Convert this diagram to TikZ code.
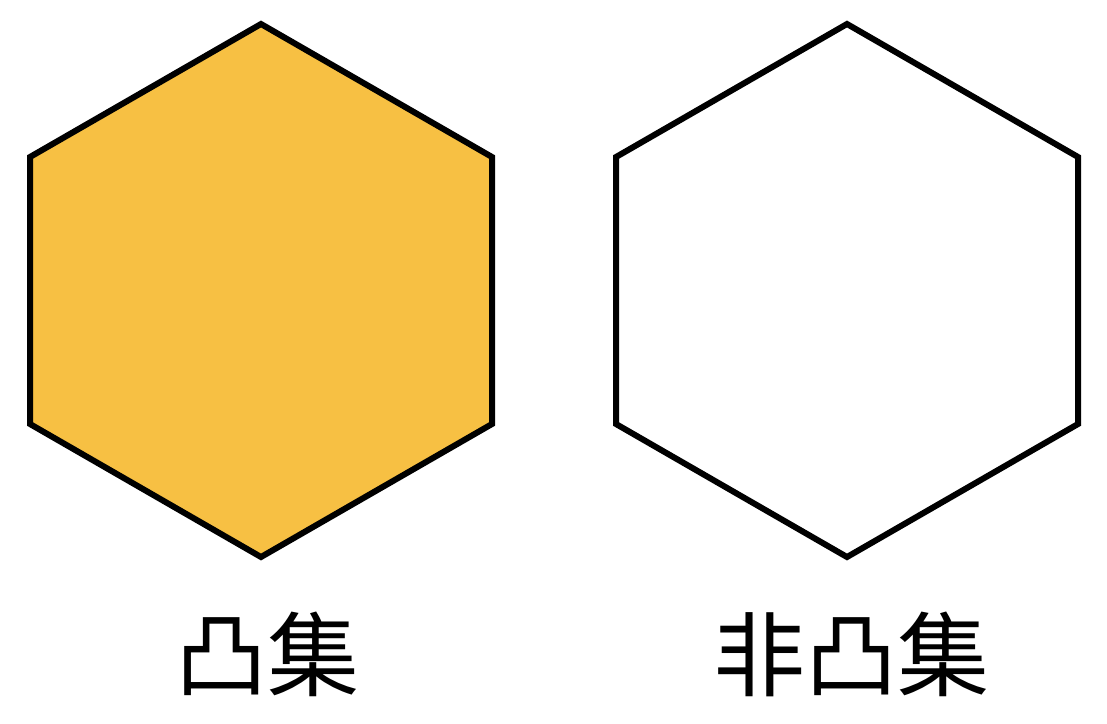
\documentclass[tikz,border=0pt]{standalone}
\usepackage{fontspec}
\newfontfamily\cjk{Noto Sans CJK SC}
\definecolor{hexfill}{HTML}{F7C043}
\tikzset{
  hexline/.style={line width=6pt, line join=miter, draw=black},
  lbl/.style={font=\cjk\fontsize{92}{96}\selectfont, inner sep=0pt, anchor=center}
}
\begin{document}
\begin{tikzpicture}[x=1pt,y=-1pt]
\useasboundingbox (0,0) rectangle (1107,723);
% left hexagon (convex, filled)
\coordinate (a1) at (261,24);
\coordinate (a2) at (492,157);
\coordinate (a3) at (492,424);
\coordinate (a4) at (261,557);
\coordinate (a5) at (30,424);
\coordinate (a6) at (30,157);
\filldraw[hexline, fill=hexfill] (a1) -- (a2) -- (a3) -- (a4) -- (a5) -- (a6) -- cycle;
% right hexagon
\coordinate (b1) at (847,24);
\coordinate (b2) at (1078,157);
\coordinate (b3) at (1078,424);
\coordinate (b4) at (847,557);
\coordinate (b5) at (616,424);
\coordinate (b6) at (616,157);
\draw[hexline, fill=white] (b1) -- (b2) -- (b3) -- (b4) -- (b5) -- (b6) -- cycle;
\node[lbl] (l1) at (267,654) {凸集};
\node[lbl] (l2) at (851,654) {非凸集};
\end{tikzpicture}
\end{document}
